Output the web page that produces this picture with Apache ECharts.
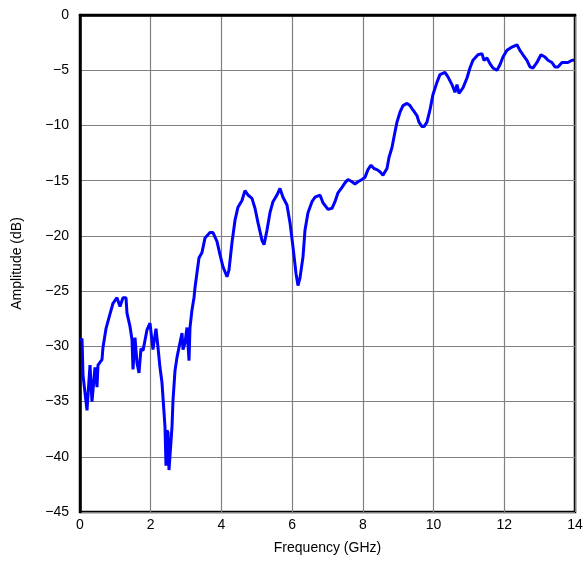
<!DOCTYPE html>
<html>
<head>
<meta charset="utf-8">
<script src="https://cdn.jsdelivr.net/npm/echarts@6/dist/echarts.min.js"></script>
<style>html,body{margin:0;padding:0;background:#fff}#c{width:588px;height:561px}</style>
</head>
<body>
<div id="c"></div>
<script>
const freq = [0.02,0.057,0.085,0.198,0.283,0.339,0.424,0.481,0.509,0.622,0.650,0.735,0.820,0.933,1.046,1.131,1.216,1.301,1.329,1.414,1.471,1.499,1.555,1.612,1.669,1.725,1.782,1.895,1.980,2.064,2.149,2.206,2.262,2.319,2.404,2.432,2.460,2.489,2.517,2.602,2.630,2.687,2.743,2.800,2.885,2.913,2.969,3.026,3.083,3.111,3.167,3.224,3.252,3.365,3.450,3.535,3.676,3.761,3.874,3.959,4.044,4.157,4.214,4.299,4.383,4.468,4.581,4.666,4.751,4.864,4.949,5.034,5.147,5.204,5.288,5.373,5.458,5.571,5.656,5.741,5.854,5.939,6.024,6.109,6.165,6.222,6.307,6.363,6.448,6.561,6.646,6.787,6.872,7.014,7.127,7.212,7.296,7.410,7.494,7.579,7.692,7.777,7.862,7.975,8.060,8.145,8.230,8.314,8.399,8.484,8.569,8.682,8.739,8.824,8.908,8.965,9.050,9.135,9.248,9.333,9.417,9.530,9.587,9.672,9.729,9.813,9.898,9.983,10.096,10.181,10.322,10.407,10.520,10.605,10.662,10.719,10.831,10.945,11.029,11.114,11.256,11.369,11.425,11.510,11.595,11.680,11.793,11.878,11.963,12.076,12.217,12.358,12.443,12.528,12.641,12.726,12.811,12.924,13.037,13.150,13.235,13.348,13.433,13.518,13.631,13.716,13.801,13.914,13.971];
const amp = [-29.5,-29.3,-32.6,-35.8,-31.7,-35.0,-31.9,-33.7,-31.7,-31.2,-30.1,-28.4,-27.4,-26.1,-25.6,-26.4,-25.6,-25.6,-27.0,-28.2,-29.4,-32.1,-29.2,-31.5,-32.4,-30.2,-30.4,-28.5,-27.9,-30.3,-28.4,-30.1,-31.9,-33.3,-37.3,-40.8,-37.6,-37.8,-41.2,-37.3,-34.9,-32.2,-31.0,-30.1,-28.8,-30.3,-29.7,-28.3,-31.3,-28.3,-26.7,-25.6,-24.7,-22.0,-21.5,-20.2,-19.7,-19.7,-20.5,-21.7,-22.8,-23.7,-23.1,-20.6,-18.6,-17.4,-16.8,-15.9,-16.3,-16.6,-17.5,-18.8,-20.4,-20.8,-19.5,-17.9,-16.9,-16.3,-15.7,-16.5,-17.2,-18.8,-21.0,-23.4,-24.5,-23.8,-21.9,-19.5,-17.9,-16.9,-16.5,-16.3,-17.0,-17.6,-17.5,-16.9,-16.1,-15.6,-15.2,-14.9,-15.1,-15.3,-15.1,-14.9,-14.7,-14.0,-13.6,-13.9,-14.0,-14.2,-14.5,-13.9,-12.9,-12.0,-10.6,-9.7,-8.8,-8.2,-8.0,-8.2,-8.6,-9.1,-9.7,-10.1,-10.1,-9.7,-8.6,-7.2,-6.1,-5.4,-5.2,-5.6,-6.3,-7.0,-6.3,-7.1,-6.6,-5.7,-4.8,-4.1,-3.6,-3.5,-4.1,-3.9,-4.4,-4.8,-5.0,-4.5,-3.8,-3.2,-2.9,-2.7,-3.2,-3.6,-4.1,-4.7,-4.8,-4.3,-3.6,-3.8,-4.1,-4.3,-4.7,-4.7,-4.3,-4.3,-4.3,-4.1,-4.1];
const xTicks = [0,2,4,6,8,10,12,14];
const yTicks = [0,-5,-10,-15,-20,-25,-30,-35,-40,-45];

const data = freq.map((f,i)=>[f,amp[i]]);
const chart = echarts.init(document.getElementById('c'));
const font = 'Liberation Sans, Arial, sans-serif';
chart.setOption({
  animation:false,
  grid:{left:80,right:13,top:15,bottom:49,show:true,borderColor:'#000',borderWidth:2.5,backgroundColor:'transparent'},
  xAxis:{type:'value',min:xTicks[0],max:xTicks[xTicks.length-1],interval:2,
    name:'Frequency (GHz)',nameLocation:'middle',nameGap:29,
    nameTextStyle:{fontFamily:font,fontSize:14,color:'#000'},
    axisLine:{show:true,lineStyle:{color:'#000',width:2.5}},
    axisTick:{show:false},
    axisLabel:{fontFamily:font,fontSize:14,color:'#000',margin:6},
    splitLine:{show:true,lineStyle:{color:'#808080',width:1.2}}},
  yAxis:{type:'value',min:yTicks[yTicks.length-1],max:yTicks[0],interval:5,
    name:'Amplitude (dB)',nameLocation:'middle',nameGap:56,nameRotate:90,
    nameTextStyle:{fontFamily:font,fontSize:14,color:'#000'},
    axisLine:{show:true,lineStyle:{color:'#000',width:2.5}},
    axisTick:{show:false},
    axisLabel:{fontFamily:font,fontSize:14,color:'#000',margin:11,
      formatter:v=>String(v).replace('-','\u2212')},
    splitLine:{show:true,lineStyle:{color:'#808080',width:1.2}}},
  series:[{type:'line',data:data,showSymbol:false,smooth:false,
    lineStyle:{color:'#0000FF',width:3},clip:true}]
});
</script>
</body>
</html>
